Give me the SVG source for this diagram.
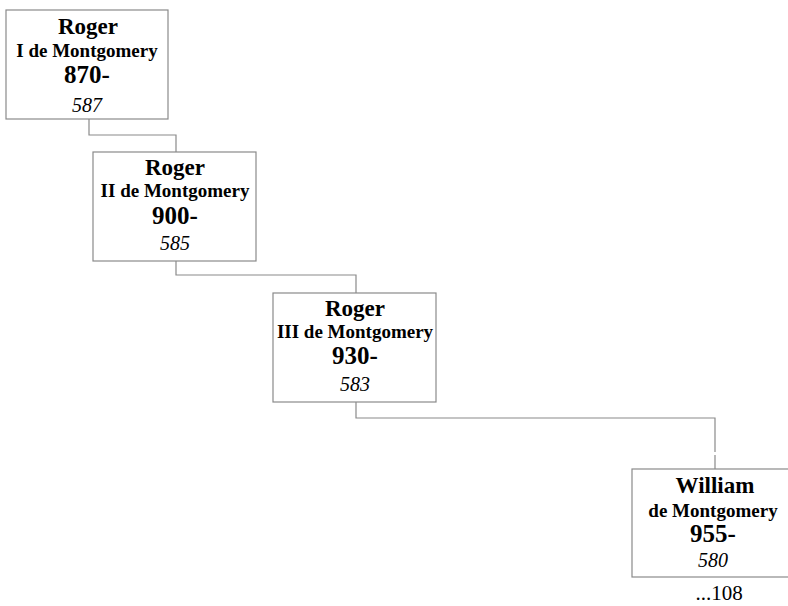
<svg xmlns="http://www.w3.org/2000/svg" width="788" height="606" viewBox="0 0 788 606">
<style>
.box{fill:#fff;stroke:#8a8a8a;stroke-width:1.2}
.con{fill:none;stroke:#8a8a8a;stroke-width:1.2}
text{font-family:"Liberation Serif","Times New Roman",serif;fill:#000;text-anchor:middle}
.nm{font-size:23px;font-weight:bold}
.sb{font-size:19px;font-weight:bold}
.yr{font-size:25px;font-weight:bold}
.no{font-size:20px;font-style:italic}
.ref{font-size:21px}
</style>
<rect width="788" height="606" fill="#fff"/>
<g id="connectors">
<path class="con" d="M89 119V135H176V152"/>
<path class="con" d="M176 261V275H356V293"/>
<path class="con" d="M356 402V418H715V452M715 455V469"/>
</g>
<g id="n1">
<rect class="box" x="6" y="10" width="162" height="109"/>
<text class="nm" x="88" y="34">Roger</text>
<text class="sb" x="87" y="57">I de Montgomery</text>
<text class="yr" x="87" y="83">870-</text>
<text class="no" x="87" y="112">587</text>
</g>
<g id="n2">
<rect class="box" x="93" y="152" width="163" height="109"/>
<text class="nm" x="175" y="175">Roger</text>
<text class="sb" x="175" y="197">II de Montgomery</text>
<text class="yr" x="175" y="224">900-</text>
<text class="no" x="175" y="250">585</text>
</g>
<g id="n3">
<rect class="box" x="273" y="293" width="163" height="109"/>
<text class="nm" x="355" y="316">Roger</text>
<text class="sb" x="355" y="338">III de Montgomery</text>
<text class="yr" x="355" y="364">930-</text>
<text class="no" x="355" y="391">583</text>
</g>
<g id="n4">
<rect class="box" x="632" y="469" width="163" height="108"/>
<text class="nm" x="715" y="493">William</text>
<text class="sb" x="713" y="517">de Montgomery</text>
<text class="yr" x="713" y="542">955-</text>
<text class="no" x="713" y="567">580</text>
<text class="ref" x="719" y="600">...108</text>
</g>
</svg>
